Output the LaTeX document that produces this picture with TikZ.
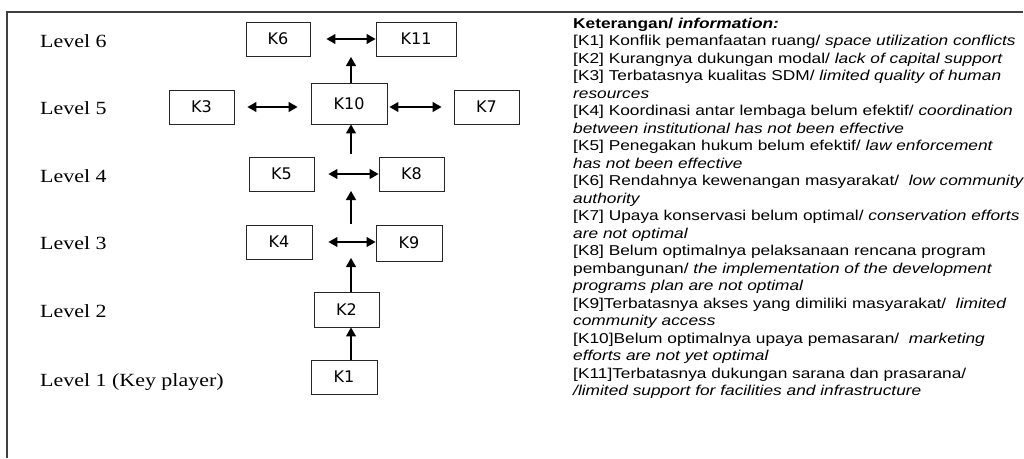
\documentclass[tikz,border=0pt]{standalone}
\usepackage{fontspec}
\usetikzlibrary{arrows.meta}
\newfontfamily\lvlfont[FakeStretch=1.18]{Liberation Serif}
\newfontfamily\legfont[FakeStretch=1.21]{Liberation Sans}
\newfontfamily\boxfont{DejaVu Sans}
\begin{document}
\begin{tikzpicture}[x=1pt,y=-1pt,
  kbox/.style={draw=black!85, line width=0.9pt, rectangle, inner sep=0pt, font=\boxfont\fontsize{16}{18}\selectfont},
  lvl/.style={anchor=base west, inner sep=0pt, font=\lvlfont\fontsize{18.6}{20}\selectfont},
  tip/.tip={Triangle[length=9pt,width=10pt]},
  arr/.style={line width=1.2pt, -tip},
  darr/.style={line width=1.2pt, tip-tip},
  frame/.style={line width=1.3pt, draw=black!75},
  legend/.style={anchor=base west, inner sep=0pt, align=left, font=\legfont\fontsize{14.3}{17.5}\selectfont}
]
\useasboundingbox (0,0) rectangle (1024,458);
\draw[frame] (7,458) -- (7,12) -- (1023,12);

% level labels
\node[lvl] (L6) at (40,47) {Level 6};
\node[lvl] (L5) at (40,114) {Level 5};
\node[lvl] (L4) at (40,182) {Level 4};
\node[lvl] (L3) at (40,249) {Level 3};
\node[lvl] (L2) at (40,317) {Level 2};
\node[lvl] (L1) at (40,386) {Level 1 (Key player)};

% boxes
\node[kbox, minimum width=64pt, minimum height=34pt] (K6) at (278,39) {K6};
\node[kbox, minimum width=80pt, minimum height=34pt] (K11) at (416,39) {K11};
\node[kbox, minimum width=76pt, minimum height=41pt] (K10) at (349,103.5) {K10};
\node[kbox, minimum width=65pt, minimum height=34pt] (K3) at (201.5,107) {K3};
\node[kbox, minimum width=65pt, minimum height=34pt] (K7) at (486.5,107) {K7};
\node[kbox, minimum width=65pt, minimum height=34pt] (K5) at (281.5,174) {K5};
\node[kbox, minimum width=65pt, minimum height=34pt] (K8) at (411.5,174) {K8};
\node[kbox, minimum width=66pt, minimum height=34pt] (K4) at (279,242) {K4};
\node[kbox, minimum width=66pt, minimum height=36pt] (K9) at (409,243) {K9};
\node[kbox, minimum width=65pt, minimum height=35pt] (K2) at (346.5,309.5) {K2};
\node[kbox, minimum width=66pt, minimum height=34pt] (K1) at (344,377) {K1};

% vertical arrows
\coordinate (ax) at (351,0);
\coordinate (c3) at (351,258);
\coordinate (c3b) at (351,224);
\coordinate (c4) at (351,191);
\coordinate (c4b) at (351,154);
\coordinate (c6) at (351,57);
\draw[arr] (K1.north -| ax) -- (K2.south -| ax);
\draw[arr] (K2.north -| ax) -- (c3);
\draw[arr] (c3b) -- (c4);
\draw[arr] (c4b) -- (K10.south -| ax);
\draw[arr] (K10.north -| ax) -- (c6);

% horizontal arrows
\draw[darr, shorten <=16pt] (K6.east) -- (K11.west);
\draw[darr, shorten <=13pt, shorten >=13pt] (K3.east) -- (K3.east -| K10.west);
\draw[darr, shorten <=2pt, shorten >=12pt] (K7.west -| K10.east) -- (K7.west);
\draw[darr, shorten <=14pt] (K5.east) -- (K8.west);
\draw[darr, shorten <=16pt] (K4.east) -- (K4.east -| K9.west);

% legend (base anchor = baseline of last line)
\node[legend] (info) at (573,395.5) {\textbf{Keterangan/ \textit{information:}}\\
{}[K1] Konflik pemanfaatan ruang/ \textit{space utilization conflicts}\\
{}[K2] Kurangnya dukungan modal/ \textit{lack of capital support}\\
{}[K3] Terbatasnya kualitas SDM/ \textit{limited quality of human}\\
\textit{resources}\\
{}[K4] Koordinasi antar lembaga belum efektif/ \textit{coordination}\\
\textit{between institutional has not been effective}\\
{}[K5] Penegakan hukum belum efektif/ \textit{law enforcement}\\
\textit{has not been effective}\\
{}[K6] Rendahnya kewenangan masyarakat/ \ \textit{low community}\\
\textit{authority}\\
{}[K7] Upaya konservasi belum optimal/ \textit{conservation efforts}\\
\textit{are not optimal}\\
{}[K8] Belum optimalnya pelaksanaan rencana program\\
pembangunan/ \textit{the implementation of the development}\\
\textit{programs plan are not optimal}\\
{}[K9]Terbatasnya akses yang dimiliki masyarakat/ \ \textit{limited}\\
\textit{community access}\\
{}[K10]Belum optimalnya upaya pemasaran/ \ \textit{marketing}\\
\textit{efforts are not yet optimal}\\
{}[K11]Terbatasnya dukungan sarana dan prasarana/\\
\textit{/limited support for facilities and infrastructure}};
\end{tikzpicture}
\end{document}
